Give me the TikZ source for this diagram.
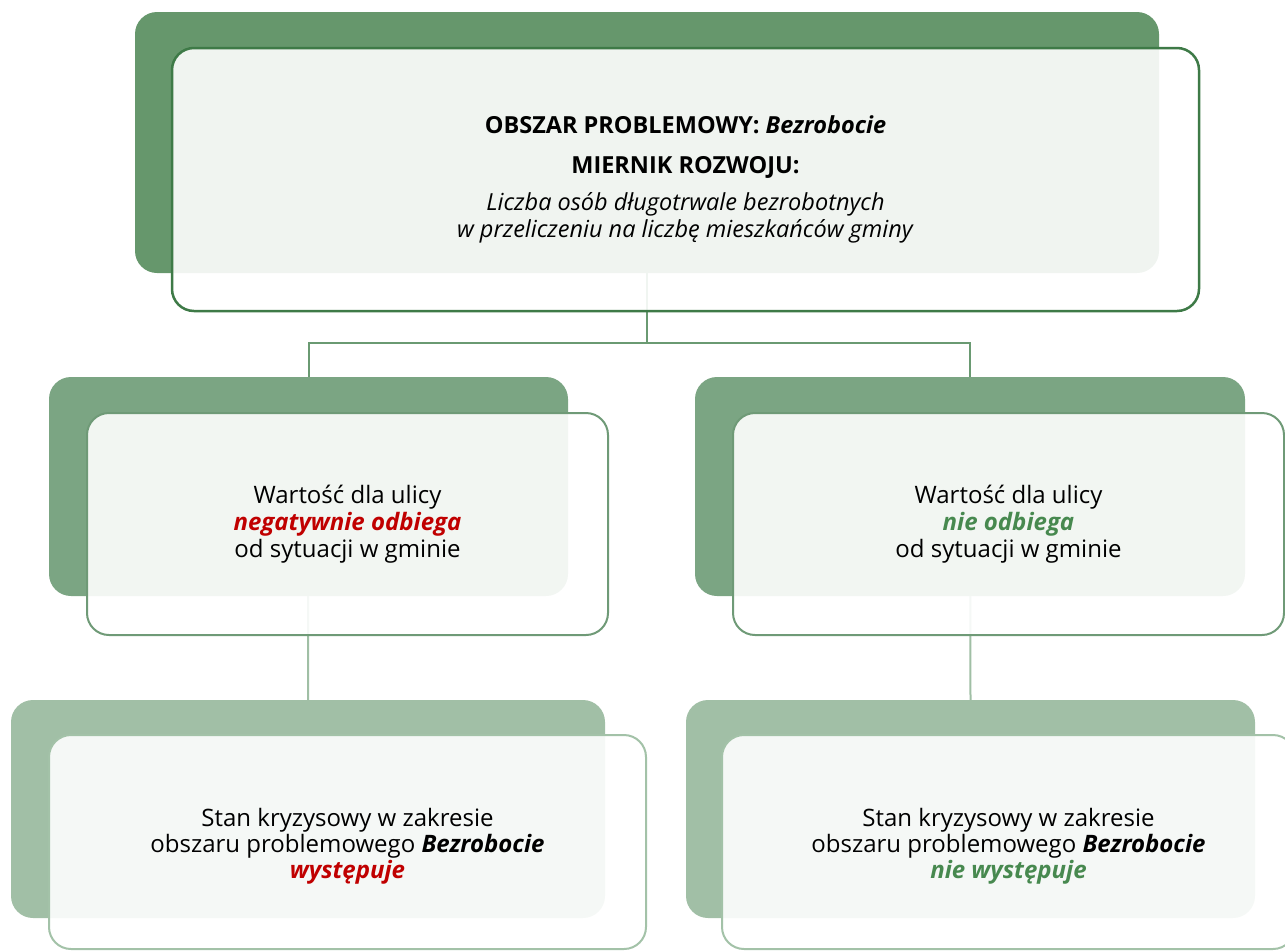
\documentclass[tikz,border=0pt]{standalone}
\usepackage{fontspec}
\setmainfont{Open Sans}
\pgfdeclarelayer{bg}
\pgfsetlayers{bg,main}
\definecolor{topback}{HTML}{66976C}
\definecolor{midback}{HTML}{7BA583}
\definecolor{botback}{HTML}{A1BFA6}
\definecolor{topline}{HTML}{3E7A47}
\definecolor{midline}{HTML}{6F9A77}
\definecolor{botline}{HTML}{A3C2A8}
\definecolor{negred}{HTML}{C00000}
\definecolor{posgreen}{HTML}{47894F}
\definecolor{connA}{HTML}{6A9A72}
\definecolor{connB}{HTML}{A0BFA5}
\tikzset{
  backbox/.style={rectangle, rounded corners=22pt, inner sep=0pt, draw=none},
  frontbox/.style={rectangle, rounded corners=22pt, inner sep=0pt, fill=white,
    fill opacity=0.9, text opacity=1, align=center, text=black},
  conn/.style={line width=2pt},
}
\begin{document}
\begin{tikzpicture}[x=1pt,y=-1pt]
\useasboundingbox (0,0) rectangle (1285,951);
\begin{scope}
\clip (0,0) rectangle (1285,951);
% top
\node[backbox, fill=topback, minimum width=1024pt, minimum height=261pt] (topB) at (647,142.5) {};
\node[frontbox, draw=topline, line width=2.5pt, minimum width=1027pt, minimum height=263pt,
  font=\fontsize{23.5}{27}\selectfont] (topF) at (685.5,179.5)
  {\textbf{OBSZAR PROBLEMOWY: \textit{Bezrobocie}}\\[13pt]
   \textbf{MIERNIK ROZWOJU:}\\[10pt]
   \textit{Liczba osób długotrwale bezrobotnych}\\
   \textit{w przeliczeniu na liczbę mieszkańców gminy}};
% middle
\node[backbox, fill=midback, minimum width=519pt, minimum height=219pt] (midLB) at (308.5,486.5) {};
\node[frontbox, draw=midline, line width=2pt, minimum width=521pt, minimum height=222pt,
  font=\fontsize{24}{27}\selectfont] (midLF) at (347.5,524)
  {Wartość dla ulicy\\
   \textcolor{negred}{\textbf{\textit{negatywnie odbiega}}}\\
   od sytuacji w gminie};
\node[backbox, fill=midback, minimum width=550pt, minimum height=219pt] (midRB) at (970,486.5) {};
\node[frontbox, draw=midline, line width=2pt, minimum width=551pt, minimum height=222pt,
  font=\fontsize{24}{27}\selectfont] (midRF) at (1008.5,524)
  {Wartość dla ulicy\\
   \textcolor{posgreen}{\textbf{\textit{nie odbiega}}}\\
   od sytuacji w gminie};
% bottom
\node[backbox, fill=botback, minimum width=594pt, minimum height=218pt] (botLB) at (308,809) {};
\node[frontbox, draw=botline, line width=2pt, minimum width=597pt, minimum height=214pt,
  font=\fontsize{24}{26}\selectfont] (botLF) at (347.5,842)
  {\rule{0pt}{26pt}Stan kryzysowy w zakresie\\
   obszaru problemowego \textbf{\textit{Bezrobocie}}\\
   \textcolor{negred}{\textbf{\textit{występuje}}}};
\node[backbox, fill=botback, minimum width=569pt, minimum height=218pt] (botRB) at (970.5,809) {};
\node[frontbox, draw=botline, line width=2pt, minimum width=573pt, minimum height=214pt,
  font=\fontsize{24}{26}\selectfont] (botRF) at (1008.5,842)
  {\rule{0pt}{26pt}Stan kryzysowy w zakresie\\
   obszaru problemowego \textbf{\textit{Bezrobocie}}\\
   \textcolor{posgreen}{\textbf{\textit{nie występuje}}}};
% connectors
\begin{pgfonlayer}{bg}
\coordinate (split) at (topB.center |- 0,343);
\draw[conn, draw=connA] (topB.center) -- (split) -| (midLB.north);
\draw[conn, draw=connA] (split) -| (midRB.north);
\draw[conn, draw=connB] (midLB.center) -- (botLB.north);
\draw[conn, draw=connB] (midRB.center) -- (botRB.north);
\end{pgfonlayer}
\end{scope}
\end{tikzpicture}
\end{document}
